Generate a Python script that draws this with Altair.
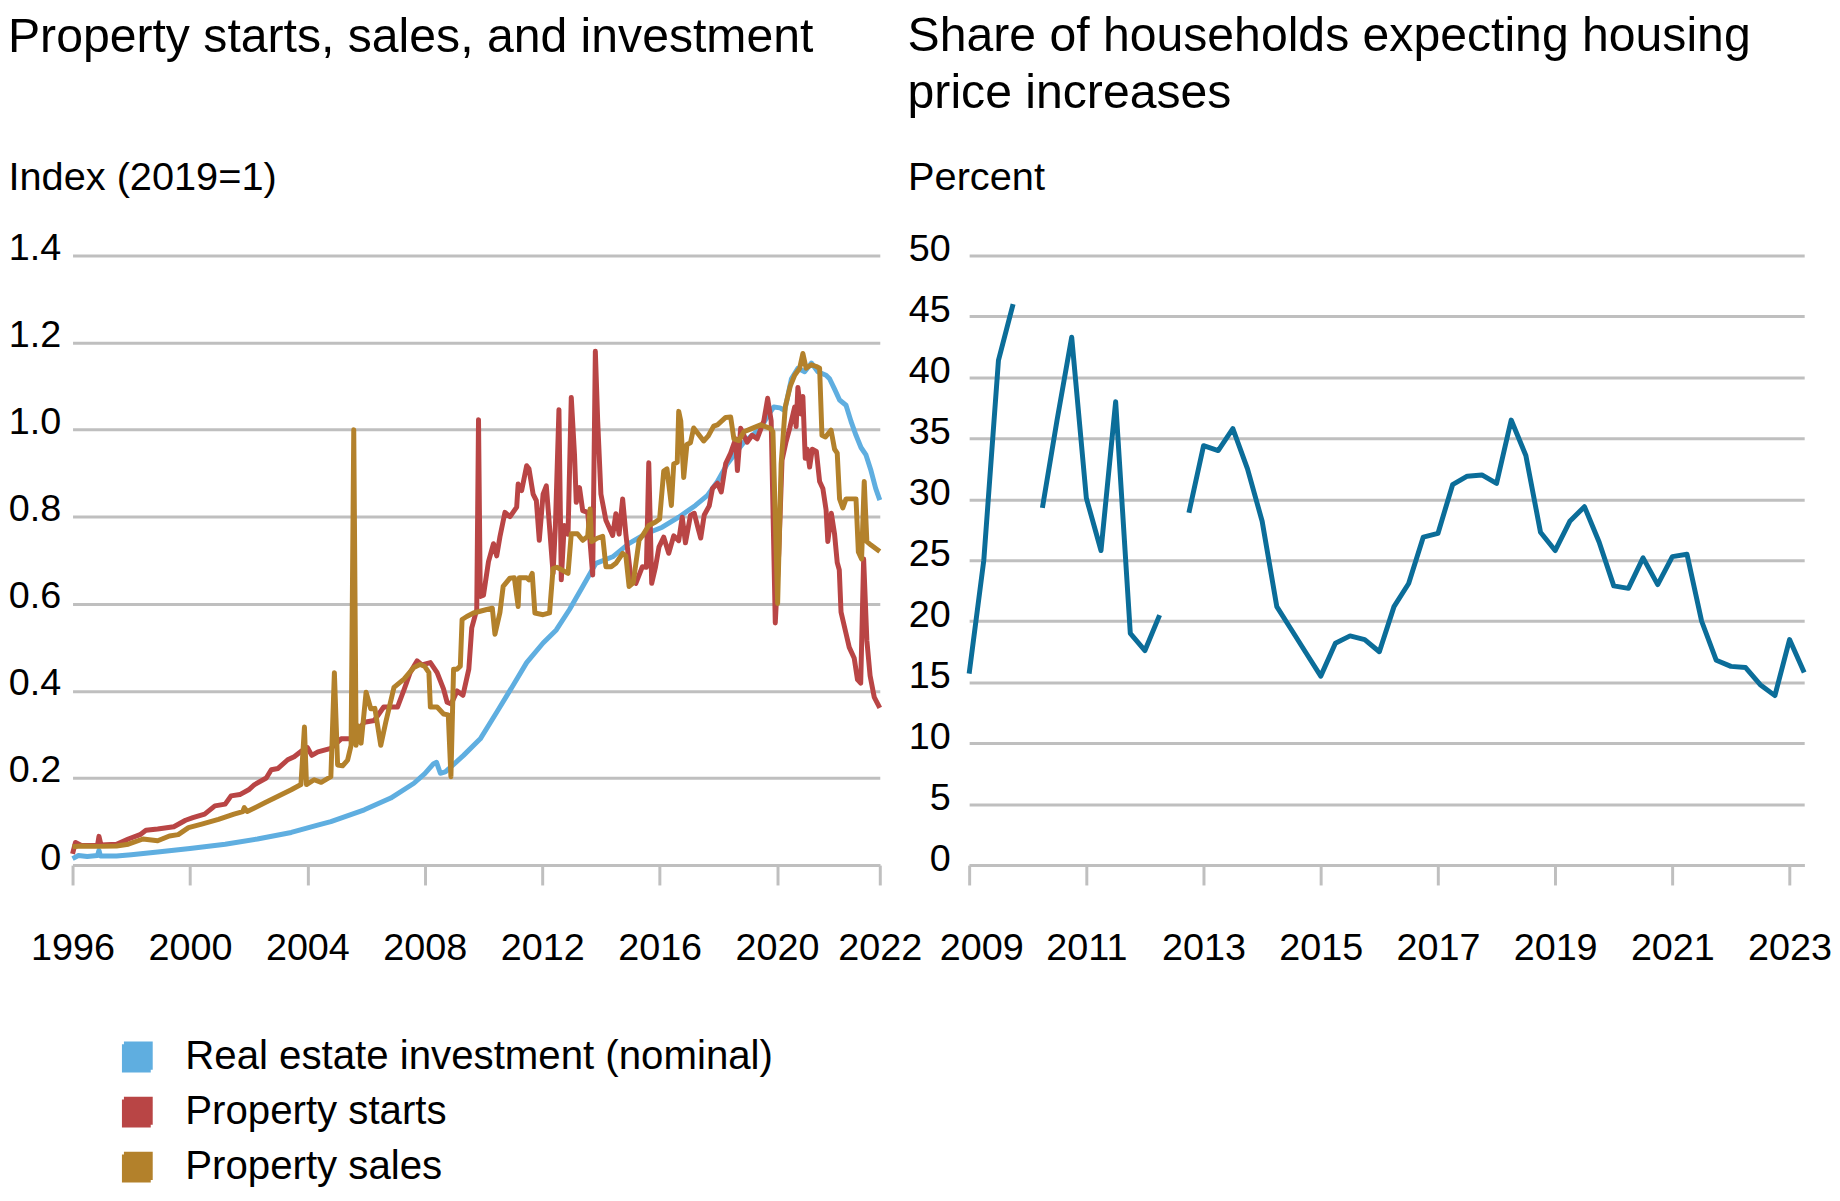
import altair as alt
import pandas as pd

FONT = "Liberation Sans"
GRID = "#BFBFBF"

# ---------------- Left panel data (decimal year, index 2019=1) ----------------
SERIES = ["Real estate investment (nominal)", "Property starts", "Property sales"]
COLORS = ["#5FAEE0", "#B94545", "#B3812B"]

INV_T = [1996.0, 1996.2, 1996.5, 1996.85, 1996.9, 1996.95, 1997.5, 1998.0, 1998.9, 2000.0,
         2001.2, 2002.3, 2003.45, 2004.35, 2004.8, 2005.94, 2006.84, 2007.63, 2008.0, 2008.3,
         2008.4, 2008.53, 2008.7, 2009.32, 2009.89, 2010.45, 2011.0, 2011.47, 2012.03, 2012.48,
         2012.93, 2013.38, 2013.83, 2014.4, 2014.96, 2015.53, 2016.09, 2016.65, 2017.22, 2017.63,
         2017.97, 2018.31, 2018.87, 2019.44, 2019.72, 2019.89, 2020.1, 2020.26, 2020.49, 2020.71,
         2020.94, 2021.17, 2021.39, 2021.67, 2021.79, 2021.96, 2022.13, 2022.35, 2022.52, 2022.69,
         2022.86, 2023.03, 2023.2, 2023.36, 2023.5]
INV_V = [0.015, 0.022, 0.020, 0.022, 0.034, 0.021, 0.021, 0.024, 0.030, 0.038,
         0.048, 0.060, 0.075, 0.092, 0.100, 0.127, 0.154, 0.188, 0.210, 0.233,
         0.236, 0.211, 0.214, 0.252, 0.290, 0.351, 0.412, 0.465, 0.510, 0.540,
         0.587, 0.640, 0.693, 0.708, 0.739, 0.761, 0.776, 0.799, 0.826, 0.849,
         0.881, 0.922, 0.971, 1.003, 1.036, 1.052, 1.050, 1.044, 1.117, 1.141,
         1.133, 1.153, 1.133, 1.125, 1.117, 1.093, 1.068, 1.056, 1.019, 0.987,
         0.959, 0.942, 0.906, 0.865, 0.838]

STARTS_T = [1996.0, 1996.1, 1996.3, 1996.85, 1996.9, 1996.97, 1997.5, 1997.9, 1998.3, 1998.5,
            1998.9, 1999.45, 1999.85, 2000.1, 2000.5, 2000.85, 2001.2, 2001.4, 2001.7, 2002.0,
            2002.2, 2002.6, 2002.77, 2003.0, 2003.33, 2003.55, 2003.78, 2004.0, 2004.15, 2004.36,
            2004.8, 2005.15, 2005.5, 2005.94, 2006.28, 2006.6, 2007.07, 2007.3, 2007.5, 2007.74,
            2007.9, 2008.19, 2008.42, 2008.64, 2008.76, 2008.9, 2009.1, 2009.3, 2009.5, 2009.6,
            2009.77, 2009.83, 2009.89, 2010.0, 2010.17, 2010.34, 2010.45, 2010.56, 2010.73, 2010.9,
            2011.13, 2011.18, 2011.3, 2011.47, 2011.55, 2011.69, 2011.8, 2011.9, 2012.03, 2012.14,
            2012.25, 2012.37, 2012.45, 2012.57, 2012.65, 2012.75, 2012.88, 2012.99, 2013.1, 2013.16,
            2013.27, 2013.38, 2013.55, 2013.72, 2013.81, 2013.89, 2014.0, 2014.17, 2014.4, 2014.51,
            2014.62, 2014.74, 2014.85, 2015.02, 2015.19, 2015.41, 2015.55, 2015.63, 2015.73, 2015.86,
            2015.98, 2016.14, 2016.31, 2016.48, 2016.65, 2016.77, 2016.88, 2017.05, 2017.18, 2017.3,
            2017.4, 2017.52, 2017.69, 2017.8, 2017.97, 2018.1, 2018.25, 2018.42, 2018.59, 2018.65,
            2018.76, 2018.98, 2019.15, 2019.32, 2019.55, 2019.68, 2019.8, 2019.94, 2020.06, 2020.17,
            2020.3, 2020.43, 2020.6, 2020.65, 2020.71, 2020.82, 2020.88, 2020.96, 2021.03, 2021.11,
            2021.2, 2021.34, 2021.45, 2021.56, 2021.67, 2021.73, 2021.85, 2021.96, 2022.05, 2022.12,
            2022.18, 2022.35, 2022.46, 2022.63, 2022.74, 2022.85, 2022.95, 2023.06, 2023.17, 2023.31,
            2023.5]
STARTS_V = [0.026, 0.052, 0.045, 0.045, 0.066, 0.046, 0.048, 0.060, 0.070, 0.080,
            0.083, 0.088, 0.103, 0.109, 0.117, 0.136, 0.140, 0.159, 0.162, 0.173,
            0.185, 0.200, 0.219, 0.222, 0.242, 0.249, 0.261, 0.270, 0.252, 0.260,
            0.268, 0.290, 0.290, 0.328, 0.332, 0.363, 0.363, 0.404, 0.442, 0.469,
            0.460, 0.465, 0.442, 0.404, 0.374, 0.370, 0.400, 0.390, 0.450, 0.545,
            0.587, 1.023, 0.617, 0.620, 0.697, 0.738, 0.710, 0.754, 0.810, 0.800,
            0.822, 0.875, 0.860, 0.917, 0.910, 0.852, 0.837, 0.746, 0.852, 0.871,
            0.776, 0.670, 0.780, 1.046, 0.655, 0.780, 0.760, 1.074, 0.943, 0.833,
            0.867, 0.814, 0.810, 0.666, 1.180, 1.020, 0.852, 0.792, 0.757, 0.807,
            0.760, 0.841, 0.760, 0.659, 0.647, 0.685, 0.684, 0.924, 0.647, 0.685,
            0.731, 0.753, 0.716, 0.756, 0.745, 0.799, 0.740, 0.803, 0.808, 0.776,
            0.751, 0.804, 0.825, 0.865, 0.877, 0.857, 0.922, 0.946, 0.979, 0.906,
            1.003, 0.971, 0.987, 0.979, 1.020, 1.072, 1.020, 0.556, 0.719, 0.930,
            0.970, 1.003, 1.052, 1.007, 1.097, 1.036, 1.076, 0.934, 0.955, 0.914,
            0.955, 0.950, 0.881, 0.865, 0.816, 0.743, 0.808, 0.760, 0.695, 0.678,
            0.581, 0.532, 0.500, 0.475, 0.426, 0.418, 0.703, 0.516, 0.435, 0.386,
            0.361]

SALES_T = [1996.0, 1996.3, 1996.9, 1997.5, 1997.9, 1998.4, 1998.9, 1999.3, 1999.6, 1999.95,
           2000.4, 2000.97, 2001.5, 2001.8, 2001.85, 2001.95, 2002.55, 2003.0, 2003.45, 2003.78,
           2003.9, 2003.97, 2004.23, 2004.47, 2004.8, 2004.92, 2005.03, 2005.2, 2005.37, 2005.49,
           2005.58, 2005.66, 2005.72, 2005.83, 2006.0, 2006.16, 2006.3, 2006.5, 2006.67, 2006.95,
           2007.29, 2007.63, 2007.85, 2008.0, 2008.14, 2008.19, 2008.42, 2008.64, 2008.8, 2008.89,
           2008.98, 2009.1, 2009.21, 2009.27, 2009.43, 2009.66, 2010.11, 2010.3, 2010.39, 2010.56,
           2010.67, 2010.9, 2011.05, 2011.18, 2011.22, 2011.47, 2011.55, 2011.66, 2011.75, 2012.03,
           2012.25, 2012.37, 2012.5, 2012.88, 2012.99, 2013.2, 2013.38, 2013.55, 2013.63, 2013.68,
           2013.85, 2014.06, 2014.17, 2014.35, 2014.51, 2014.74, 2014.85, 2014.96, 2015.1, 2015.3,
           2015.4, 2015.63, 2015.86, 2016.0, 2016.14, 2016.25, 2016.4, 2016.48, 2016.6, 2016.65,
           2016.72, 2016.82, 2016.93, 2017.05, 2017.16, 2017.33, 2017.5, 2017.65, 2017.84, 2017.97,
           2018.25, 2018.42, 2018.53, 2018.7, 2018.87, 2019.15, 2019.44, 2019.77, 2019.86, 2020.02,
           2020.14, 2020.28, 2020.45, 2020.6, 2020.77, 2020.88, 2020.99, 2021.17, 2021.34, 2021.45,
           2021.53, 2021.65, 2021.84, 2021.96, 2022.05, 2022.13, 2022.24, 2022.35, 2022.52, 2022.69,
           2022.77, 2022.88, 2022.97, 2023.06, 2023.2, 2023.5]
SALES_V = [0.042, 0.044, 0.043, 0.044, 0.048, 0.060, 0.056, 0.067, 0.070, 0.086,
           0.094, 0.105, 0.117, 0.123, 0.132, 0.123, 0.143, 0.158, 0.173, 0.185,
           0.317, 0.185, 0.196, 0.190, 0.203, 0.442, 0.230, 0.228, 0.241, 0.275,
           1.000, 0.275, 0.320, 0.280, 0.397, 0.359, 0.360, 0.275, 0.328, 0.408,
           0.427, 0.454, 0.461, 0.456, 0.442, 0.363, 0.363, 0.347, 0.345, 0.203,
           0.450, 0.450, 0.457, 0.564, 0.571, 0.579, 0.587, 0.590, 0.530, 0.580,
           0.640, 0.659, 0.660, 0.594, 0.660, 0.660, 0.655, 0.670, 0.579, 0.575,
           0.579, 0.681, 0.684, 0.670, 0.761, 0.761, 0.746, 0.755, 0.818, 0.743,
           0.750, 0.755, 0.685, 0.685, 0.693, 0.716, 0.710, 0.640, 0.648, 0.746,
           0.755, 0.780, 0.788, 0.795, 0.905, 0.910, 0.826, 0.921, 0.925, 1.042,
           1.020, 0.890, 0.966, 0.970, 1.004, 0.989, 0.974, 0.985, 1.008, 1.011,
           1.028, 1.029, 0.979, 0.975, 0.995, 1.003, 1.011, 1.003, 0.995, 0.601,
           0.922, 1.052, 1.100, 1.125, 1.141, 1.175, 1.141, 1.149, 1.145, 1.141,
           0.987, 0.983, 0.999, 0.955, 0.946, 0.841, 0.820, 0.841, 0.841, 0.841,
           0.719, 0.703, 0.881, 0.743, 0.735, 0.720]

X_TICKS_LEFT = [1996, 2000, 2004, 2008, 2012, 2016, 2020, 2023.5]
X_LABELS_LEFT = ["1996", "2000", "2004", "2008", "2012", "2016", "2020", "2022"]
Y_TICKS_LEFT = [0, 0.2, 0.4, 0.6, 0.8, 1.0, 1.2, 1.4]
Y_LABELS_LEFT = ["0", "0.2", "0.4", "0.6", "0.8", "1.0", "1.2", "1.4"]

# ---------------- Right panel data (quarterly, percent) ----------------
Q_START = "2009Q1"
EXPECT = [15.7, 25.0, 41.4, 46.0,
          None, 29.3, 36.5, 43.3,
          30.1, 25.8, 38.0, 19.0,
          17.6, 20.5, None, 28.9,
          34.4, 34.0, 35.8, 32.5,
          28.2, 21.2, 19.3, 17.4,
          15.5, 18.2, 18.8, 18.5,
          17.5, 21.2, 23.1, 26.9,
          27.2, 31.2, 31.9, 32.0,
          31.3, 36.5, 33.6, 27.3,
          25.8, 28.2, 29.4, 26.5,
          22.9, 22.7, 25.2, 23.0,
          25.3, 25.5, 20.0, 16.8,
          16.3, 16.2, 14.8, 13.9,
          18.5, 15.8]
X_TICKS_RIGHT = [2009, 2011, 2013, 2015, 2017, 2019, 2021, 2023]
Y_TICKS_RIGHT = [0, 5, 10, 15, 20, 25, 30, 35, 40, 45, 50]
RIGHT_COLOR = "#0B6D99"

# ---------------- build tables ----------------
rows = []
for name, ts, vs in zip(SERIES, [INV_T, STARTS_T, SALES_T], [INV_V, STARTS_V, SALES_V]):
    for t, v in zip(ts, vs):
        rows.append({"series": name, "t": t, "v": v})
df_left = pd.DataFrame(rows)

periods = pd.period_range(Q_START, periods=len(EXPECT), freq="Q")
seg, seg_ids = 0, []
for v in EXPECT:
    if v is None:
        seg += 1
    seg_ids.append(seg)
df_right = pd.DataFrame({
    "t": [p.year + (p.quarter - 1) / 4 for p in periods],
    "v": EXPECT,
    "seg": seg_ids,
}).dropna()


def label_expr(values, labels):
    parts = [f"abs(datum.value - {v}) < 1e-6 ? '{l}'" for v, l in zip(values, labels)]
    return " : ".join(parts) + " : ''"


# legend swatch: a unit square drawn as tightly packed strokes (reads as a solid block)
SWATCH_PATH = ("M-1,-1H1V-0.8H-1V-0.6H1V-0.4H-1V-0.2H1V0H-1V0.2H1V0.4H-1V0.6H1V0.8H-1V1H1")

color_scale = alt.Scale(domain=SERIES, range=COLORS)
legend = alt.Legend(
    title=None, orient="none", legendX=45, legendY=787, direction="vertical",
    symbolType=SWATCH_PATH, symbolSize=729, symbolStrokeWidth=4, symbolOpacity=1,
    labelFontSize=40.5, labelFont=FONT, labelColor="black", labelOffset=28,
    rowPadding=11.5, padding=0, labelLimit=800,
)

x_left = alt.X("t:Q", scale=alt.Scale(domain=[1996, 2023.5], nice=False, zero=False),
               axis=alt.Axis(values=X_TICKS_LEFT, labelExpr=label_expr(X_TICKS_LEFT, X_LABELS_LEFT),
                             title=None, grid=False, domainColor=GRID, domainWidth=3,
                             tickColor=GRID, tickWidth=3, tickSize=20, labelPadding=45,
                             labelFontSize=38, labelColor="black", labelOverlap=False,
                             labelFlush=False, labelBaseline="top"))
y_left = alt.Y("v:Q", scale=alt.Scale(domain=[0, 1.4], nice=False),
               axis=alt.Axis(values=Y_TICKS_LEFT, labelExpr=label_expr(Y_TICKS_LEFT, Y_LABELS_LEFT),
                             title="Index (2019=1)", titleAngle=0, titleAlign="left",
                             titleBaseline="alphabetic", titleX=-65, titleY=-66,
                             titleFontSize=40, titleFontWeight="normal", titleColor="black",
                             grid=True, gridColor=GRID, gridWidth=3, domain=False, ticks=False,
                             tickSize=0, labelPadding=12, labelFontSize=38, labelOffset=-7,
                             labelColor="black"))

layers = []
for name in SERIES:
    layers.append(
        alt.Chart(df_left).transform_filter(alt.datum.series == name)
        .mark_line(strokeWidth=5, strokeJoin="round")
        .encode(x=x_left, y=y_left,
                color=alt.Color("series:N", scale=color_scale, legend=legend))
    )
left = alt.layer(*layers).properties(
    width=813, height=614,
    title=alt.TitleParams("Property starts, sales, and investment", anchor="start",
                          fontSize=48.5, fontWeight="normal", color="black", font=FONT,
                          offset=96),
)

right = alt.Chart(df_right).mark_line(strokeWidth=5, color=RIGHT_COLOR, strokeJoin="round").encode(
    x=alt.X("t:Q", scale=alt.Scale(domain=[2009, 2023.25], nice=False, zero=False),
            axis=alt.Axis(values=X_TICKS_RIGHT, format="d", title=None, grid=False,
                          domainColor=GRID, domainWidth=3, tickColor=GRID, tickWidth=3,
                          tickSize=20, labelPadding=45, labelFontSize=38, labelColor="black",
                          labelOverlap=False, labelFlush=True, labelFlushOffset=30,
                          labelBaseline="top")),
    y=alt.Y("v:Q", scale=alt.Scale(domain=[0, 50], nice=False),
            axis=alt.Axis(values=Y_TICKS_RIGHT, format="d", title="Percent", titleAngle=0,
                          titleAlign="left", titleBaseline="alphabetic", titleX=-62, titleY=-66,
                          titleFontSize=40, titleFontWeight="normal", titleColor="black",
                          grid=True, gridColor=GRID, gridWidth=3, domain=False, ticks=False,
                          tickSize=0, labelPadding=19, labelFontSize=38, labelOffset=-6,
                          labelColor="black")),
    detail="seg:N",
).properties(
    width=841, height=614,
    title=alt.TitleParams(["Share of households expecting housing", "price increases"],
                          anchor="start", fontSize=48.5, fontWeight="normal", color="black",
                          font=FONT, offset=40, lineHeight=57),
)

chart = alt.hconcat(left, right, spacing=90, bounds="flush").properties(
    padding={"left": 0, "top": 0, "right": 0, "bottom": 0}
).configure(font=FONT).configure_view(stroke=None)

chart.save("out.html", embed_options={"renderer": "svg", "actions": False})
